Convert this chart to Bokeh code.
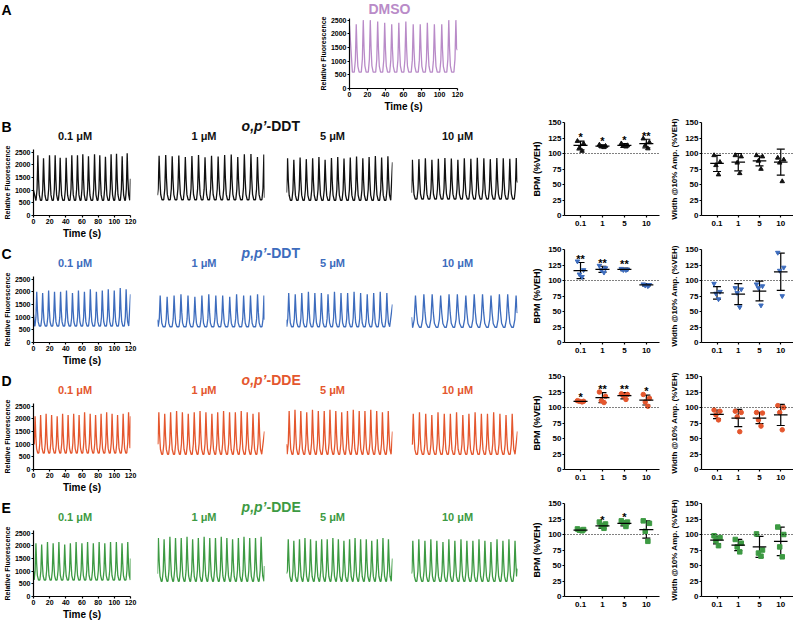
from bokeh.plotting import figure
from bokeh.layouts import row, column
from bokeh.models import Range1d, FixedTicker, Span, Whisker, TeeHead, ColumnDataSource, Spacer
from bokeh.core.properties import value
from bokeh.embed import file_html
from bokeh.resources import INLINE

FONT = "Liberation Sans"

# ------------------------------------------------------------------ data
conc_ticks = ["0.1", "1", "5", "10"]
trace_titles = ["0.1 \u03bcM", "1 \u03bcM", "5 \u03bcM", "10 \u03bcM"]

# DMSO trace: peak times (s), peak heights, baseline, value at t=0, value at t=120
dmso_t = [7.5, 15.3, 23.1, 31.3, 39.1, 46.9, 54.8, 62.6, 70.8, 78.6, 86.5, 94.3, 102.5, 110.3, 118.2]
dmso_v = [2350, 2500, 2500, 2450, 2400, 2350, 2400, 2450, 2350, 2350, 2400, 2350, 2350, 2500, 2500]
dmso_base, dmso_start, dmso_end = 600, 2300, 1400

# o,p'-DDT
opddt_t = [
    [5.4, 12.4, 19.8, 26.8, 33.0, 40.4, 47.4, 54.4, 61.0, 68.0, 75.5, 82.0, 89.0, 96.0, 102.7, 109.7, 115.9],
    [1.8, 9.2, 16.5, 23.9, 31.2, 38.6, 46.0, 53.3, 60.6, 68.0, 75.3, 82.7, 90.0, 97.4, 104.8, 112.1, 119.3],
    [1.2, 8.3, 15.4, 22.4, 29.6, 36.7, 43.7, 50.9, 58.0, 65.1, 72.2, 79.3, 86.4, 93.5, 100.6, 107.7, 114.8],
    [1.0, 8.4, 15.7, 23.1, 30.4, 37.8, 45.1, 52.5, 59.8, 67.2, 74.5, 81.9, 89.2, 96.6, 103.9, 111.3, 118.6],
]
opddt_v = [
    [2370, 2250, 2370, 2370, 2270, 2270, 2370, 2370, 2410, 2330, 2410, 2370, 2310, 2410, 2430, 2330, 2450],
    [2350, 2380, 2330, 2360, 2300, 2340, 2380, 2290, 2350, 2320, 2380, 2400, 2300, 2410, 2420, 2300, 2400],
    [2250, 2200, 2280, 2220, 2250, 2300, 2200, 2260, 2300, 2240, 2280, 2320, 2250, 2300, 2340, 2280, 2330],
    [2200, 2220, 2250, 2200, 2230, 2260, 2240, 2200, 2250, 2230, 2270, 2250, 2220, 2260, 2250, 2230, 2260],
]
opddt_base = [600, 620, 600, 650]
opddt_start = [1000, 800, 900, 900]
opddt_end = [1450, 700, 2100, 1300]

# p,p'-DDT
ppddt_t = [
    [4.0, 11.3, 18.7, 26.0, 33.5, 40.8, 48.2, 55.6, 63.0, 70.3, 77.8, 85.1, 92.5, 99.9, 107.3, 114.6],
    [3.0, 10.8, 18.6, 26.3, 34.2, 41.9, 49.8, 57.5, 65.4, 73.1, 81.0, 88.7, 96.6, 104.3, 112.2, 119.4],
    [2.5, 9.9, 17.3, 24.8, 32.1, 39.5, 47.0, 54.3, 61.7, 69.2, 76.5, 83.9, 91.4, 98.7, 106.1, 113.6],
    [4.5, 14.0, 23.4, 33.0, 42.5, 51.9, 61.5, 71.0, 80.4, 90.0, 99.5, 108.9, 118.4],
]
ppddt_v = [
    [2000, 1950, 2050, 2000, 2000, 2050, 1950, 2050, 2000, 2100, 2000, 2050, 2100, 2050, 2150, 2100],
    [1850, 1800, 1850, 1900, 1850, 1800, 1850, 1900, 1850, 1850, 1800, 1900, 1850, 1850, 1900, 1850],
    [1950, 1900, 1950, 2000, 1950, 1950, 1900, 2000, 1950, 1950, 2000, 1950, 1900, 1950, 2000, 1950],
    [1850, 1900, 1900, 1850, 1900, 1900, 1850, 1900, 1900, 1850, 1900, 1900, 1850],
]
ppddt_base = [650, 620, 620, 600]
ppddt_start = [1100, 900, 900, 1000]
ppddt_end = [1900, 900, 1500, 1200]

# o,p'-DDE
opdde_t = [
    [2.0, 8.8, 15.6, 22.4, 29.3, 36.0, 42.8, 49.7, 56.4, 63.2, 70.1, 76.8, 83.6, 90.5, 97.2, 104.0, 110.9, 117.6],
    [1.5, 8.1, 14.7, 21.4, 27.9, 34.5, 41.2, 47.7, 54.3, 61.0, 67.5, 74.1, 80.8, 87.3, 93.9, 100.6, 107.1, 113.7],
    [3.0, 9.6, 16.2, 22.9, 29.4, 36.0, 42.7, 49.2, 55.8, 62.5, 69.0, 75.6, 82.3, 88.8, 95.4, 102.1, 108.6, 115.2],
    [2.0, 9.0, 16.1, 23.0, 30.0, 37.1, 44.0, 51.0, 58.1, 65.0, 72.0, 79.1, 86.0, 93.0, 100.1, 107.0, 114.0],
]
opdde_v = [
    [2100, 2150, 2200, 2150, 2100, 2200, 2150, 2200, 2150, 2250, 2200, 2150, 2200, 2250, 2200, 2150, 2200, 2250],
    [2250, 2200, 2250, 2300, 2250, 2200, 2250, 2300, 2250, 2200, 2250, 2300, 2250, 2250, 2300, 2250, 2200, 2250],
    [2300, 2350, 2300, 2250, 2350, 2300, 2300, 2350, 2300, 2250, 2300, 2350, 2300, 2300, 2350, 2300, 2250, 2300],
    [2200, 2250, 2200, 2150, 2250, 2200, 2200, 2250, 2150, 2200, 2250, 2200, 2200, 2250, 2200, 2150, 2200],
]
opdde_base = [650, 600, 600, 600]
opdde_start = [1000, 1000, 1000, 1000]
opdde_end = [2100, 1500, 1500, 1500]

# p,p'-DDE
ppdde_t = [
    [3.0, 10.1, 17.3, 24.3, 31.4, 38.6, 45.6, 52.7, 59.9, 66.9, 74.0, 81.2, 88.2, 95.3, 102.5, 109.5, 116.6],
    [1.0, 7.4, 13.9, 20.2, 26.6, 33.1, 39.4, 45.8, 52.3, 58.6, 65.0, 71.5, 77.8, 84.2, 90.7, 97.0, 103.4, 109.9, 116.2],
    [2.0, 8.3, 14.7, 20.9, 27.2, 33.6, 39.8, 46.1, 52.5, 58.7, 65.0, 71.4, 77.6, 83.9, 90.3, 96.5, 102.8, 109.2, 115.4],
    [1.5, 8.3, 15.2, 21.9, 28.7, 35.6, 42.3, 49.1, 56.0, 62.7, 69.5, 76.4, 83.1, 89.9, 96.8, 103.5, 110.3, 117.2],
]
ppdde_v = [
    [2100, 2050, 2150, 2100, 2150, 2050, 2100, 2150, 2100, 2150, 2100, 2150, 2100, 2150, 2150, 2100, 2150],
    [2300, 2250, 2350, 2300, 2300, 2350, 2250, 2300, 2350, 2300, 2300, 2350, 2300, 2250, 2300, 2350, 2300, 2300, 2350],
    [2250, 2200, 2250, 2300, 2250, 2200, 2250, 2250, 2300, 2250, 2200, 2250, 2300, 2250, 2250, 2200, 2250, 2300, 2250],
    [2200, 2250, 2200, 2250, 2200, 2150, 2250, 2200, 2250, 2200, 2200, 2250, 2200, 2150, 2250, 2200, 2250, 2200],
]
ppdde_base = [650, 600, 600, 600]
ppdde_start = [1000, 900, 900, 900]
ppdde_end = [1500, 1200, 1500, 1100]

# BPM (%VEH): individual points, mean, SD, significance
opddt_bpm_pts = [[120, 116, 109, 104], [114, 112, 111, 110], [116, 113, 112, 111], [124, 118, 113, 108]]
opddt_bpm_mean = [113, 112, 113, 116]
opddt_bpm_sd = [7, 2, 3, 7]
opddt_bpm_sig = ["*", "*", "*", "**"]
ppddt_bpm_pts = [[131, 117, 110, 106], [124, 120, 117, 113], [119, 118, 117, 117], [94, 93, 92, 91]]
ppddt_bpm_mean = [116, 118, 118, 93]
ppddt_bpm_sd = [13, 5, 2, 2]
ppddt_bpm_sig = ["**", "**", "**", ""]
opdde_bpm_pts = [[111, 110, 110, 109], [125, 118, 111, 108], [122, 121, 119, 113], [121, 115, 109, 102]]
opdde_bpm_mean = [110, 116, 119, 112]
opdde_bpm_sd = [1, 8, 5, 8]
opdde_bpm_sig = ["*", "**", "**", "*"]
ppdde_bpm_pts = [[109, 108, 107, 106], [120, 117, 114, 110], [122, 120, 119, 113], [122, 118, 105, 89]]
ppdde_bpm_mean = [107, 114, 118, 108]
ppdde_bpm_sd = [1.5, 4, 4, 14]
ppdde_bpm_sig = ["", "*", "*", ""]

# Width @10% amplitude (%VEH)
opddt_wid_pts = [[97, 86, 81, 66], [97, 95, 85, 68], [97, 95, 88, 75], [93, 90, 85, 55]]
opddt_wid_mean = [84, 86, 88, 86]
opddt_wid_sd = [13, 14, 8, 21]
ppddt_wid_pts = [[95, 82, 79, 70], [88, 86, 80, 57], [94, 91, 88, 60], [145, 121, 116, 75]]
ppddt_wid_mean = [80, 78, 83, 114]
ppddt_wid_sd = [10, 17, 16, 30]
opdde_wid_pts = [[96, 94, 88, 80], [94, 92, 85, 61], [92, 91, 80, 70], [103, 100, 92, 64]]
opdde_wid_mean = [89, 83, 83, 88]
opdde_wid_sd = [7, 14, 9, 17]
ppdde_wid_pts = [[98, 95, 90, 82], [92, 86, 80, 72], [101, 75, 70, 65], [112, 100, 80, 64]]
ppdde_wid_mean = [91, 83, 80, 89]
ppdde_wid_sd = [6, 9, 17, 23]

# ------------------------------------------------------------------ style
COL_DMSO = "#b98bc8"
ROWS = [
    dict(letter="B", pre="o,p\u2019", post="-DDT", color="#111111", title_color="#111111", marker="triangle",
         t=opddt_t, v=opddt_v, base=opddt_base, start=opddt_start, end=opddt_end, widen=[1, 1, 1, 1],
         bpm=(opddt_bpm_pts, opddt_bpm_mean, opddt_bpm_sd, opddt_bpm_sig),
         wid=(opddt_wid_pts, opddt_wid_mean, opddt_wid_sd)),
    dict(letter="C", pre="p,p\u2019", post="-DDT", color="#3d6cbd", title_color="#3d6cbd", marker="inverted_triangle",
         t=ppddt_t, v=ppddt_v, base=ppddt_base, start=ppddt_start, end=ppddt_end, widen=[1, 1, 1, 1.4],
         bpm=(ppddt_bpm_pts, ppddt_bpm_mean, ppddt_bpm_sd, ppddt_bpm_sig),
         wid=(ppddt_wid_pts, ppddt_wid_mean, ppddt_wid_sd)),
    dict(letter="D", pre="o,p\u2019", post="-DDE", color="#e4572e", title_color="#e4572e", marker="circle",
         t=opdde_t, v=opdde_v, base=opdde_base, start=opdde_start, end=opdde_end, widen=[1, 1, 1, 1],
         bpm=(opdde_bpm_pts, opdde_bpm_mean, opdde_bpm_sd, opdde_bpm_sig),
         wid=(opdde_wid_pts, opdde_wid_mean, opdde_wid_sd)),
    dict(letter="E", pre="p,p\u2019", post="-DDE", color="#3d9a43", title_color="#3d9a43", marker="square",
         t=ppdde_t, v=ppdde_v, base=ppdde_base, start=ppdde_start, end=ppdde_end, widen=[1, 1, 1, 1],
         bpm=(ppdde_bpm_pts, ppdde_bpm_mean, ppdde_bpm_sd, ppdde_bpm_sig),
         wid=(ppdde_wid_pts, ppdde_wid_mean, ppdde_wid_sd)),
]

# spike shape (relative time offsets, fraction of amplitude)
SHAPE_DT = [-2.2, -1.0, 0.0, 0.9, 1.8, 3.2]
SHAPE_FR = [0.0, 0.25, 1.0, 0.45, 0.12, 0.0]
PT_DX = [-0.14, 0.14, -0.05, 0.07]

# horizontal geometry (page px -> widths)
T_BL = [26, 14, 15, 12]
T_FW = [97, 107, 106, 106]
T_BR = [13, 7, 7, 5]
STRIP_W = sum(T_BL) + sum(T_FW) + sum(T_BR)
BPM_BL, BPM_FW, BPM_BR = 42, 95, 2
WID_BL, WID_FW, WID_BR = 40, 92, 0
FULL_W = STRIP_W + BPM_BL + BPM_FW + BPM_BR + WID_BL + WID_FW + WID_BR


def waveform(pt, pv, base, sv, ev, widen=1.0):
    dts = [d * widen for d in SHAPE_DT]
    xs, ys = [0.0], [float(sv)]
    if sv > base and pt[0] + dts[0] > 1.0:
        xs.append(min(dts[-1], pt[0] + dts[0] - 0.3))
        ys.append(base)
    for t, v in zip(pt, pv):
        for dt, fr in zip(dts, SHAPE_FR):
            x = t + dt
            if 0 < x < 120 and x > xs[-1]:
                xs.append(x)
                ys.append(base + fr * (v - base))
    xs.append(120.0)
    ys.append(float(ev))
    return xs, ys


def style_axis(ax, fs):
    ax.axis_line_width = 1.2
    ax.axis_line_color = "black"
    ax.major_tick_line_width = 1.2
    ax.major_tick_line_color = "black"
    ax.major_tick_out = 2
    ax.major_tick_in = 0
    ax.minor_tick_line_color = None
    ax.major_label_text_font = FONT
    ax.major_label_text_font_style = "bold"
    ax.major_label_text_font_size = fs
    ax.major_label_text_color = "black"
    ax.major_label_standoff = 1
    ax.axis_label_text_font = FONT
    ax.axis_label_text_font_style = "bold"
    ax.axis_label_text_color = "black"
    ax.axis_label_standoff = 1


def base_fig(fw, fh, bl, br, bt, bb, xr, yr, axes=True):
    kw = dict(frame_width=fw, frame_height=fh, min_border_left=bl, min_border_right=br,
              min_border_top=bt, min_border_bottom=bb, x_range=xr, y_range=yr,
              output_backend="svg", toolbar_location=None, tools="")
    if not axes:
        kw.update(x_axis_location=None, y_axis_location=None)
    p = figure(**kw)
    p.outline_line_color = None
    p.grid.visible = False
    p.background_fill_color = "white"
    p.border_fill_color = "white"
    return p


def make_trace(pt, pv, base, sv, ev, color, k, bt, fh, bb, axes, widen=1.0, ymax=2600):
    p = base_fig(T_FW[k], fh, T_BL[k], T_BR[k], bt, bb, Range1d(0, 120), Range1d(0, ymax), axes)
    xs, ys = waveform(pt, pv, base, sv, ev, widen)
    p.line(xs, ys, line_color=color, line_width=1.3)
    if axes:
        p.xaxis.ticker = FixedTicker(ticks=[0, 20, 40, 60, 80, 100, 120])
        p.yaxis.ticker = FixedTicker(ticks=[0, 500, 1000, 1500, 2000, 2500])
        p.xaxis.axis_label = "Time (s)"
        p.yaxis.axis_label = "Relative Fluorescence"
        for ax in (p.xaxis[0], p.yaxis[0]):
            style_axis(ax, "7px")
        p.xaxis.axis_label_text_font_size = "10px"
        p.yaxis.axis_label_text_font_size = "7px"
    return p


def make_dot(pts, mean, sd, sig, marker, color, ylabel, ylabel_size, bl, fw, br, bt, fh, bb):
    p = base_fig(fw, fh, bl, br, bt, bb, Range1d(-0.73, 3.6), Range1d(0, 150))
    p.add_layout(Span(location=100, dimension="width", line_dash="1 2", line_color="black", line_width=1))
    xs, ys = [], []
    for i, plist in enumerate(pts):
        for j, val in enumerate(plist):
            xs.append(i + PT_DX[j])
            ys.append(val)
    p.scatter(xs, ys, marker=marker, size=4.5, fill_color=color, line_color=color)
    idx = list(range(len(mean)))
    up = [m + s for m, s in zip(mean, sd)]
    lo = [m - s for m, s in zip(mean, sd)]
    src = ColumnDataSource(dict(x=idx, upper=up, lower=lo))
    p.add_layout(Whisker(source=src, base="x", upper="upper", lower="lower", line_width=1.2, line_color="black",
                         upper_head=TeeHead(size=8, line_width=1.2, line_color="black"),
                         lower_head=TeeHead(size=8, line_width=1.2, line_color="black")))
    p.segment(x0=[i - 0.32 for i in idx], y0=mean, x1=[i + 0.32 for i in idx], y1=mean,
              line_color="black", line_width=1.3)
    if sig is not None:
        p.text(x=idx, y=[u + 6 for u in up], text=sig, text_align="center", text_baseline="alphabetic",
               text_font=value(FONT), text_font_style="bold", text_font_size="11px", text_color="black")
    p.xaxis.ticker = FixedTicker(ticks=idx)
    p.xaxis.major_label_overrides = {i: c for i, c in enumerate(conc_ticks)}
    p.yaxis.ticker = FixedTicker(ticks=[0, 25, 50, 75, 100, 125, 150])
    p.yaxis.axis_label = ylabel
    for ax in (p.xaxis[0], p.yaxis[0]):
        style_axis(ax, "8px")
    p.xaxis.major_label_standoff = 3
    p.yaxis.axis_label_text_font_size = ylabel_size
    p.yaxis.axis_label_standoff = 3
    return p


def make_strip(w, h, items):
    p = base_fig(w, h, 0, 0, 0, 0, Range1d(0, w), Range1d(h, 0), axes=False)
    for (x, y, txt, size, style, color, align) in items:
        p.text(x=[x], y=[y], text=[txt], text_font=value(FONT), text_font_size=size,
               text_font_style=style, text_color=color, text_align=align, text_baseline="middle")
    return p


# ------------------------------------------------------------------ row A
A_LEFT = 316
A_BL, A_FW, A_BR, A_BT, A_FH, A_BB = 30, 108, 10, 2, 70, 26
stripA = make_strip(FULL_W, 16, [(1, 9, "A", "14px", "bold", "black", "left"),
                                 (A_LEFT + A_BL + A_FW / 2 - 11, 8, "DMSO", "14px", "bold", COL_DMSO, "center")])
figA = base_fig(A_FW, A_FH, A_BL, A_BR, A_BT, A_BB, Range1d(0, 120), Range1d(0, 2560))
xa, ya = waveform(dmso_t, dmso_v, dmso_base, dmso_start, dmso_end)
figA.line(xa, ya, line_color=COL_DMSO, line_width=1.3)
figA.xaxis.ticker = FixedTicker(ticks=[0, 20, 40, 60, 80, 100, 120])
figA.yaxis.ticker = FixedTicker(ticks=[0, 500, 1000, 1500, 2000, 2500])
figA.xaxis.axis_label = "Time (s)"
figA.yaxis.axis_label = "Relative Fluorescence"
for ax in (figA.xaxis[0], figA.yaxis[0]):
    style_axis(ax, "7px")
figA.xaxis.axis_label_text_font_size = "10px"
figA.yaxis.axis_label_text_font_size = "7px"
rows = [column(stripA, row(Spacer(width=A_LEFT, height=10), figA))]

# ------------------------------------------------------------------ rows B-E
centers = []
acc = 0
for k in range(4):
    centers.append(acc + T_BL[k] + T_FW[k] / 2)
    acc += T_BL[k] + T_FW[k] + T_BR[k]

for r, spec in enumerate(ROWS):
    last = (r == len(ROWS) - 1)
    bb = 24 if last else 26
    strip_h = 29
    items = [(1, 12, spec["letter"], "14px", "bold", "black", "left"),
             (266, 11, spec["pre"], "14px", "bold italic", spec["title_color"], "right"),
             (266, 11, spec["post"], "14px", "bold", spec["title_color"], "left")]
    for k in range(4):
        items.append((centers[k], 21, trace_titles[k], "11px", "bold", spec["title_color"], "center"))
    strip = make_strip(STRIP_W, strip_h, items)
    traces = [make_trace(spec["t"][k], spec["v"][k], spec["base"][k], spec["start"][k], spec["end"][k],
                         spec["color"], k, 6, 66, bb, axes=(k == 0), widen=spec["widen"][k]) for k in range(4)]
    left = column(strip, row(*traces))
    bp, bm, bs, bsig = spec["bpm"]
    wp, wm, ws = spec["wid"]
    fig_bpm = make_dot(bp, bm, bs, bsig, spec["marker"], spec["color"], "BPM (%VEH)", "9px",
                       BPM_BL, BPM_FW, BPM_BR, 8, 93, bb)
    fig_wid = make_dot(wp, wm, ws, None, spec["marker"], spec["color"], "Width @10% Amp. (%VEH)", "8px",
                       WID_BL, WID_FW, WID_BR, 8, 93, bb)
    rows.append(row(left, fig_bpm, fig_wid))

layout = column(*rows)
open("out.html", "w").write(file_html(layout, INLINE, title="Cardiomyocyte calcium transients"))
